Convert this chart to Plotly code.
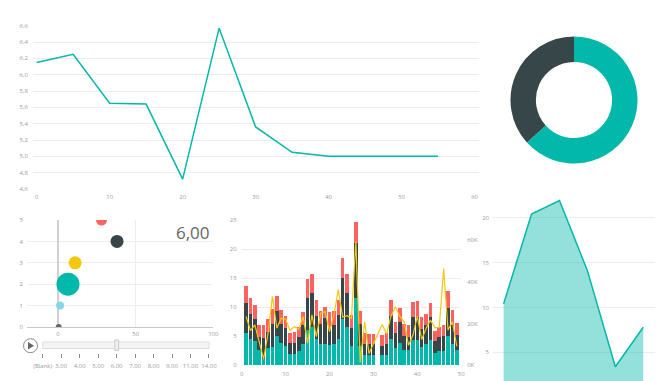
import plotly.graph_objects as go

W, H = 665, 381

# ---------------- data ----------------
line_x = [0, 5, 10, 15, 20, 25, 30, 35, 40, 45, 50, 55]
line_y = [6.15, 6.25, 5.65, 5.64, 4.72, 6.57, 5.36, 5.05, 5.0, 5.0, 5.0, 5.0]

donut_labels = ["A", "B"]
donut_values = [63.3, 36.7]

bub_x = [0.4, 1.3, 6.4, 11, 38, 28]
bub_y = [0, 1, 2, 3, 4, 5]
bub_size = [6, 8, 23, 13, 13, 11]
bub_colors = ["#5F6B6D", "#8AD4EB", "#01B8AA", "#F2C80F", "#374649", "#FD625E"]
play_value = "6,00"
slider_labels = ["(Blank)", "3,00", "4,00", "5,00", "6,00", "7,00", "8,00", "9,00", "11,00", "14,00"]

bar_x = list(range(1, 50))
total = [13.6, 11.5, 10.4, 6.9, 6.9, 8.0, 9.7, 12.0, 9.6, 8.5,
         5.6, 5.7, 6.6, 9.2, 14.8, 15.7, 11.2, 9.4, 10.1, 9.1,
         9.3, 11.3, 18.5, 15.7, 8.7, 24.7, 9.4, 5.5, 5.4, 5.4,
         None, 5.2, 5.5, 11.3, 7.5, 9.9, 7.1, 6.9, 10.9, 11.1,
         8.3, 8.9, 10.8, 5.9, 6.6, 6.9, 12.8, 9.6, 7.2]
dark_top = [10.7, 8.8, 7.9, 4.9, 4.7, 5.8, 7.1, 9.4, 7.1, 6.4,
            3.9, 3.9, 4.8, 7.0, 11.6, 12.5, 8.5, 7.1, 8.2, 6.5,
            7.0, 8.6, 15.0, 12.5, 6.4, 21.1, 7.1, 3.6, 3.7, 3.7,
            None, 3.4, 3.7, 8.4, 5.6, 7.5, 5.0, 4.9, 8.3, 8.3,
            6.3, 6.9, 8.3, 4.2, 4.8, 5.0, 9.9, 6.9, 5.3]
teal_val = [5.6, 4.6, 4.1, 2.6, 1.0, 3.0, 3.1, 5.0, 3.8, 3.3,
            2.0, 2.0, 2.5, 3.6, 6.0, 6.6, 4.5, 3.7, 3.7, 3.5,
            3.7, 4.5, 7.9, 6.6, 3.3, 11.6, 3.4, 1.8, 1.8, 1.8,
            None, 1.7, 1.8, 4.5, 2.9, 3.9, 2.6, 2.6, 4.3, 4.3,
            3.2, 3.6, 4.3, 2.1, 2.4, 2.5, 5.1, 3.7, 2.7]
yellow_k = [23.4, 16.7, 19.4, 10.6, 2.9, 15.4, 33.1, 17.8, 22.6, 22.2,
            16.7, 18.6, 17.3, 23.4, 10.6, 24.2, 13.8, 25.0, 25.8, 16.2,
            24.2, 36.3, 23.1, 23.8, 22.6, 59.5, 1.3, 20.9, 5.6, 10.4,
            15.0, 19.6, 15.0, 23.6, 28.1, 23.6, 20.9, 9.6, 14.4, 23.6,
            12.4, 17.7, 21.7, 18.1, 18.1, 46.5, 16.9, 20.9, 9.1]

area_x = [1, 2, 3, 4, 5, 6]
area_y = [10.4, 20.4, 21.9, 14.1, 3.4, 7.8]

# ---------------- helpers ----------------
def px(x):
    return x / W

def py(y):
    return 1 - y / H

TEAL, DARK, RED, YEL = "#01B8AA", "#374649", "#FD625E", "#F2C80F"
GRID = "#EDEDED"
TICKF = dict(family="Segoe UI, Open Sans, sans-serif", size=6, color="#9A9A9A")

dark_val = [None if d is None else round(d - t, 2) for d, t in zip(dark_top, teal_val)]
red_val = [None if a is None else round(a - d, 2) for a, d in zip(total, dark_top)]
yellow = [v * 1000 for v in yellow_k]

fig = go.Figure()

# top line chart
fig.add_trace(go.Scatter(x=line_x, y=line_y, mode="lines", line=dict(color=TEAL, width=1.5),
                         xaxis="x", yaxis="y", showlegend=False, hoverinfo="skip"))

# donut
fig.add_trace(go.Pie(labels=donut_labels, values=donut_values, hole=0.6, sort=False,
                     direction="clockwise", rotation=0, textinfo="none",
                     marker=dict(colors=[TEAL, DARK], line=dict(width=0)),
                     domain=dict(x=[px(510.5), px(637.5)], y=[py(163.5), py(36.5)]),
                     showlegend=False, hoverinfo="skip"))

# bubble scatter
fig.add_trace(go.Scatter(x=bub_x, y=bub_y, mode="markers",
                         marker=dict(size=bub_size, color=bub_colors, opacity=1, line=dict(width=0)),
                         xaxis="x2", yaxis="y2", showlegend=False, hoverinfo="skip", cliponaxis=True))

# stacked bars
fig.add_trace(go.Bar(x=bar_x, y=teal_val, marker=dict(color=TEAL, line=dict(width=0)),
                     xaxis="x3", yaxis="y3", showlegend=False, hoverinfo="skip"))
fig.add_trace(go.Bar(x=bar_x, y=dark_val, marker=dict(color=DARK, line=dict(width=0)),
                     xaxis="x3", yaxis="y3", showlegend=False, hoverinfo="skip"))
fig.add_trace(go.Bar(x=bar_x, y=red_val, marker=dict(color=RED, line=dict(width=0)),
                     xaxis="x3", yaxis="y3", showlegend=False, hoverinfo="skip"))
fig.add_trace(go.Scatter(x=bar_x, y=yellow, mode="lines", line=dict(color=YEL, width=1.2),
                         xaxis="x3", yaxis="y4", showlegend=False, hoverinfo="skip"))

# area chart
fig.add_trace(go.Scatter(x=area_x, y=area_y, mode="lines", fill="tozeroy",
                         line=dict(color=TEAL, width=1.5), fillcolor="rgba(1,184,170,0.42)",
                         xaxis="x5", yaxis="y5", showlegend=False, hoverinfo="skip"))

# slider tick axis (invisible trace to activate it)
fig.add_trace(go.Scatter(x=list(range(len(slider_labels))), y=[0] * len(slider_labels),
                         mode="markers", marker=dict(size=1, opacity=0),
                         xaxis="x6", yaxis="y6", showlegend=False, hoverinfo="skip"))

fig.update_layout(
    width=W, height=H, margin=dict(l=0, r=0, t=0, b=0, autoexpand=False),
    paper_bgcolor="white", plot_bgcolor="white",
    separators=",.", barmode="stack", bargap=0.2,
    font=dict(family="Segoe UI, Open Sans, sans-serif"),
    # top line chart
    xaxis=dict(domain=[px(33), px(479)], range=[-0.5, 60.6], anchor="y", automargin=False,
               tickvals=[0, 10, 20, 30, 40, 50, 60], showgrid=False, zeroline=False,
               showline=False, tickfont=TICKF, ticks="", ticklabelstandoff=3),
    yaxis=dict(domain=[py(189.4), py(25.3)], range=[4.595, 6.605], anchor="x", automargin=False,
               tickvals=[4.6, 4.8, 5.0, 5.2, 5.4, 5.6, 5.8, 6.0, 6.2, 6.4, 6.6], tickformat=".1f",
               showgrid=True, gridcolor=GRID, zeroline=False, tickfont=TICKF, ticks="",
               ticklabelstandoff=4),
    # bubble chart
    xaxis2=dict(domain=[px(27), px(213.3)], range=[-20, 100], anchor="y2", automargin=False,
                tickvals=[0, 50, 100], showgrid=True, gridcolor=GRID,
                zeroline=True, zerolinecolor="#D0D0D0", zerolinewidth=2,
                showline=False, tickfont=TICKF, ticks="", ticklabelstandoff=2),
    yaxis2=dict(domain=[py(327), py(220)], range=[0, 5], anchor="x2", automargin=False,
                tickvals=[0, 1, 2, 3, 4, 5], showgrid=True, gridcolor=GRID,
                zeroline=True, zerolinecolor="#C8C8C8", zerolinewidth=1,
                tickfont=TICKF, ticks="", ticklabelstandoff=3),
    # bar chart
    xaxis3=dict(domain=[px(241.7), px(461.2)], range=[0, 50], anchor="y3", automargin=False,
                tickvals=[0, 10, 20, 30, 40, 50], showgrid=False, zeroline=False,
                tickfont=TICKF, ticks="", ticklabelstandoff=4),
    yaxis3=dict(domain=[py(365.3), py(220)], range=[0, 25], anchor="x3", automargin=False,
                tickvals=[0, 5, 10, 15, 20, 25], showgrid=True, gridcolor=GRID,
                zeroline=False, tickfont=TICKF, ticks="", ticklabelstandoff=4),
    yaxis4=dict(overlaying="y3", side="right", anchor="x3", range=[0, 69750], automargin=False,
                tickvals=[0, 20000, 40000, 60000], ticktext=["0K", "20K", "40K", "60K"],
                showgrid=False, zeroline=False, tickfont=TICKF, ticks="", ticklabelstandoff=5),
    # area chart
    xaxis5=dict(domain=[px(493), px(655)], range=[0.62, 6.42], anchor="y5", automargin=False,
                showticklabels=False, showgrid=False, zeroline=False, ticks=""),
    yaxis5=dict(domain=[0, py(195)], range=[1.81, 22.52], anchor="x5", automargin=False,
                tickvals=[5, 10, 15, 20], showgrid=True, gridcolor=GRID,
                zeroline=False, tickfont=TICKF, ticks="", ticklabelstandoff=3),
    # slider ticks
    xaxis6=dict(domain=[px(42.7), px(209)], range=[-0.001, 9.001], anchor="y6", automargin=False,
                tickvals=list(range(len(slider_labels))), ticktext=slider_labels,
                ticks="outside", ticklen=4, tickwidth=1, tickcolor="#8A8A8A",
                showgrid=False, zeroline=False, showline=False, tickfont=TICKF,
                ticklabelstandoff=3),
    yaxis6=dict(domain=[py(353), py(351)], range=[0, 1], anchor="x6", automargin=False,
                visible=False),
)

shapes = [
    # slider track
    dict(type="rect", xref="paper", yref="paper", x0=px(42.7), x1=px(209), y0=py(348.5), y1=py(342),
         fillcolor="#F4F4F4", line=dict(color="#DDDDDD", width=1), layer="above"),
    # slider handle at 6,00
    dict(type="rect", xref="paper", yref="paper", x0=px(114.8), x1=px(118.6), y0=py(350.5), y1=py(340),
         fillcolor="#F0F0F0", line=dict(color="#C8C8C8", width=1), layer="above"),
    # play circle
    dict(type="circle", xref="paper", yref="paper", x0=px(23.5), x1=px(37.5), y0=py(352.7), y1=py(338.7),
         fillcolor="white", line=dict(color="#8A8A8A", width=1), layer="above"),
    # play triangle
    dict(type="path", xref="paper", yref="paper",
         path=f"M {px(28)},{py(342)} L {px(34)},{py(345.7)} L {px(28)},{py(349.4)} Z",
         fillcolor="#666666", line=dict(width=0), layer="above"),
]
fig.update_layout(shapes=shapes)

fig.add_annotation(x=px(193), y=py(233), xref="paper", yref="paper", text=play_value,
                   showarrow=False, font=dict(family="Segoe UI, Open Sans, sans-serif", size=17, color="#666666"),
                   xanchor="center", yanchor="middle")

fig.write_html("out.html")
